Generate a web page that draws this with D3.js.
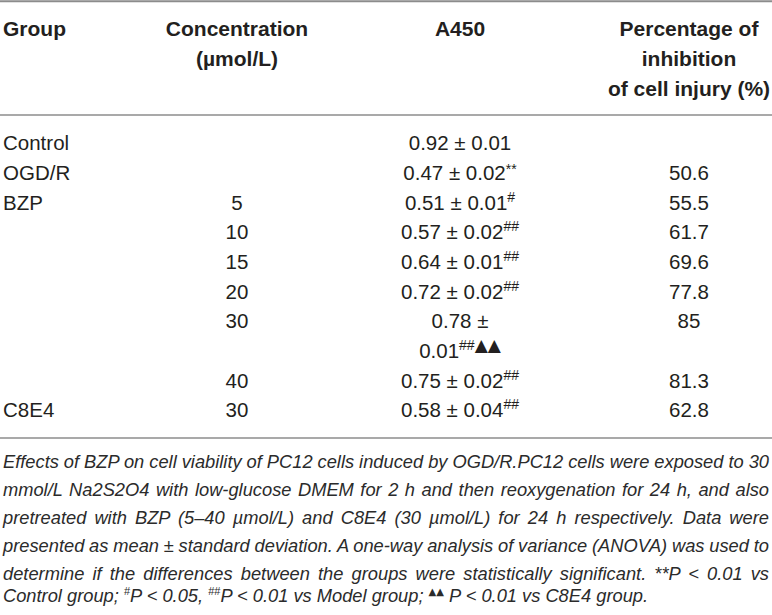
<!DOCTYPE html>
<html><head><meta charset="utf-8">
<script src="https://cdn.jsdelivr.net/npm/d3@7"></script>
<style>
body{margin:0;background:#fff}
svg{display:block}
text{font-family:"Liberation Sans",Arial,Helvetica,sans-serif}
</style>
</head><body>
<svg id="c" width="772" height="615"></svg>
<script>
// ---------- data ----------
const headerGroup = ["Group"];
const headerConc = ["Concentration", "(\u00b5mol/L)"];
const headerA450 = ["A450"];
const headerInhib = ["Percentage of", "inhibition", "of cell injury (%)"];

const groups = ["Control", "OGD/R", "BZP", "", "", "", "", "", "C8E4"];
const concentrations = ["", "", "5", "10", "15", "20", "30", "40", "30"];
const a450Mean = ["0.92", "0.47", "0.51", "0.57", "0.64", "0.72", "0.78", "0.75", "0.58"];
const a450SD = ["0.01", "0.02", "0.01", "0.02", "0.01", "0.02", "0.01", "0.02", "0.04"];
const sigControl = ["", "**", "", "", "", "", "", "", ""];
const sigModel = ["", "", "#", "##", "##", "##", "##", "##", "##"];
const sigC8E4 = ["", "", "", "", "", "", "\u25b2\u25b2", "", ""];
const inhibition = ["", "50.6", "55.5", "61.7", "69.6", "77.8", "85", "81.3", "62.8"];
const wrappedRow = 6; // A450 cell of this row breaks onto two lines

const captionLines = [
  "Effects of BZP on cell viability of PC12 cells induced by OGD/R.PC12 cells were exposed to 30",
  "mmol/L Na2S2O4 with low-glucose DMEM for 2 h and then reoxygenation for 24 h, and also",
  "pretreated with BZP (5\u201340 \u00b5mol/L) and C8E4 (30 \u00b5mol/L) for 24 h respectively. Data were",
  "presented as mean \u00b1 standard deviation. A one-way analysis of variance (ANOVA) was used to",
  "determine if the differences between the groups were statistically significant. **P < 0.01 vs"
];
const captionLast = [
  {t: "Control group; "}, {t: "#", sup: true}, {t: "P < 0.05, "}, {t: "##", sup: true},
  {t: "P < 0.01 vs Model group; "}, {t: "\u25b2\u25b2", sup: true, tri: true}, {t: " P < 0.01 vs C8E4 group."}
];

// ---------- layout ----------
const svg = d3.select("#c");
const W = 772;
const ink = "#231f20";
const rule = "#8c8c8c";

const colX = d3.scaleOrdinal()
  .domain(["group", "conc", "a450", "inhib"])
  .range([3, 237, 460, 689]);

const headY = d3.scaleLinear().domain([0, 2]).range([28, 88]);
const lineY = d3.scaleLinear().domain([0, 9]).range([143, 410]);

// rules
[1.2, 115, 438].forEach(y => {
  svg.append("line").attr("x1", 0).attr("x2", W).attr("y1", y).attr("y2", y)
    .attr("stroke", rule).attr("stroke-width", y < 5 ? 2 : 1.6);
});

// headers
function header(lines, key, anchor) {
  svg.append("g").selectAll("text").data(lines).join("text")
    .attr("x", colX(key))
    .attr("y", (d, i) => headY(i))
    .attr("dy", "0.36em")
    .attr("text-anchor", anchor)
    .attr("font-size", 21)
    .attr("font-weight", "bold")
    .attr("fill", ink)
    .text(d => d);
}
header(headerGroup, "group", "start");
header(headerConc, "conc", "middle");
header(headerA450, "a450", "middle");
header(headerInhib, "inhib", "middle");

// body rows
const rows = groups.map((g, i) => ({
  g, c: concentrations[i], m: a450Mean[i], sd: a450SD[i],
  s1: sigControl[i], s2: sigModel[i], s3: sigC8E4[i], p: inhibition[i],
  line: i + (i > wrappedRow ? 1 : 0), wrap: i === wrappedRow
}));

const body = svg.append("g").attr("font-size", 20.5).attr("fill", ink);

function cell(key, anchor, accessor) {
  body.append("g").selectAll("text").data(rows.filter(r => accessor(r) !== "")).join("text")
    .attr("x", colX(key))
    .attr("y", r => lineY(r.line))
    .attr("dy", "0.36em")
    .attr("text-anchor", anchor)
    .text(accessor);
}
cell("group", "start", r => r.g);
cell("conc", "middle", r => r.c);
cell("inhib", "middle", r => r.p);

rows.forEach(r => {
  if (!r.wrap) {
    const t = body.append("text")
      .attr("x", colX("a450")).attr("y", lineY(r.line)).attr("dy", "0.36em")
      .attr("text-anchor", "middle");
    t.append("tspan").text(r.m + " \u00b1 " + r.sd);
    if (r.s1) t.append("tspan").attr("font-size", 14).attr("dy", -6).text(r.s1);
    if (r.s2) t.append("tspan").attr("font-size", 14).attr("dy", -8).text(r.s2);
  } else {
    body.append("text")
      .attr("x", colX("a450")).attr("y", lineY(r.line)).attr("dy", "0.36em")
      .attr("text-anchor", "middle").text(r.m + " \u00b1");
    const t = body.append("text")
      .attr("x", colX("a450")).attr("y", lineY(r.line + 1)).attr("dy", "0.36em")
      .attr("text-anchor", "middle");
    t.append("tspan").text(r.sd);
    t.append("tspan").attr("font-size", 14).attr("dy", -8).text(r.s2);
    t.append("tspan").attr("font-size", 17).attr("font-family", "DejaVu Sans")
      .attr("dy", 1).text(r.s3);
  }
});

// caption (justified)
const capX0 = 3, capX1 = 769;
const capY = d3.scaleLinear().domain([0, 5]).range([461, 602]);
const cap = svg.append("g").attr("font-size", 18.3).attr("font-style", "italic").attr("fill", "#2b2b2b");

captionLines.forEach((ln, i) => {
  const t = cap.append("text").attr("x", capX0).attr("y", capY(i)).attr("dy", "0.36em").text(ln);
  const w = t.node().getComputedTextLength();
  const spaces = (ln.match(/ /g) || []).length;
  t.attr("word-spacing", (capX1 - capX0 - w) / spaces);
});
const last = cap.append("text").attr("x", capX0).attr("y", capY(5)).attr("dy", "0.36em");
let pending = 0;
captionLast.forEach(p => {
  const s = last.append("tspan").text(p.t);
  if (p.sup) {
    s.attr("font-size", p.tri ? 10 : 11).attr("dy", -7 - pending).attr("font-style", "normal");
    if (p.tri) s.attr("font-family", "DejaVu Sans");
    pending = -7;
  } else {
    s.attr("dy", -pending);
    pending = 0;
  }
});
</script>
</body></html>
